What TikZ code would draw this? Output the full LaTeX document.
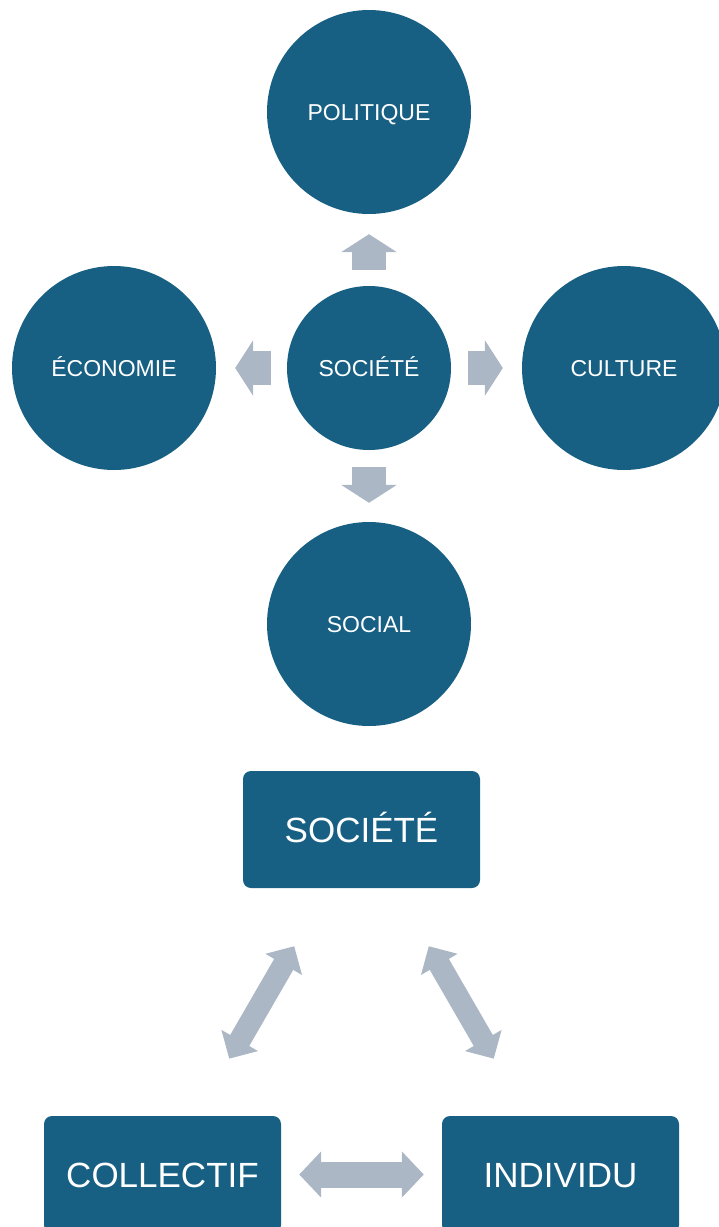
\documentclass[tikz,border=0pt]{standalone}
\usepackage{fontspec}
\setmainfont{Liberation Sans}
\usetikzlibrary{arrows.meta,positioning}

\definecolor{bleu}{RGB}{24,96,131}
\definecolor{gris}{RGB}{171,183,196}

\begin{document}
\begin{tikzpicture}[x=1pt, y=-1pt,
	cercle/.style={circle, fill=bleu, text=white, inner sep=0pt, minimum size=204pt, text height=16.5pt, text depth=0pt, font=\fontsize{23}{23}\selectfont},
	boite/.style={rectangle, rounded corners=8pt, fill=bleu, text=white, minimum width=237pt, minimum height=117pt, text height=25pt, text depth=0pt, font=\fontsize{35}{35}\selectfont},
	fleche/.style={draw=gris, line width=34pt, -{Triangle[length=18pt, width=55pt]}},
	dfleche/.style={draw=gris, line width=22pt, {Triangle[length=21pt, width=41pt]}-{Triangle[length=21pt, width=41pt]}}]
	\useasboundingbox (0,0) rectangle (719,1227);
	\clip (0,0) rectangle (719,1227);

	% les cercles
	\node[cercle, minimum size=164pt] (centre) at (369,368) {SOCIÉTÉ};
	\node[cercle] (politique) at (369,112) {POLITIQUE};
	\node[cercle] (economie) at (114,368) {ÉCONOMIE};
	\node[cercle] (culture) at (624,368) {CULTURE};
	\node[cercle] (social) at (369,624) {SOCIAL};

	\draw[fleche, shorten <=16pt, shorten >=20pt] (centre) -- (politique);
	\draw[fleche, shorten <=16pt, shorten >=19pt] (centre) -- (economie);
	\draw[fleche, shorten <=17pt, shorten >=19pt] (centre) -- (culture);
	\draw[fleche, shorten <=17pt, shorten >=19pt] (centre) -- (social);

	% les boites
	\node[boite] (societe) at (361.5,829.5) {SOCIÉTÉ};
	\node[boite] (collectif) at (162.5,1174.5) {COLLECTIF};
	\node[boite] (individu) at (560.5,1174.5) {INDIVIDU};

	\draw[dfleche, shorten <=67pt, shorten >=66pt] (societe) -- (collectif);
	\draw[dfleche, shorten <=67pt, shorten >=66pt] (societe) -- (individu);
	\draw[dfleche, line width=26pt, {Triangle[length=22pt, width=45pt]}-{Triangle[length=22pt, width=45pt]}, shorten <=18pt, shorten >=18pt] (collectif) -- (individu);
\end{tikzpicture}
\end{document}
